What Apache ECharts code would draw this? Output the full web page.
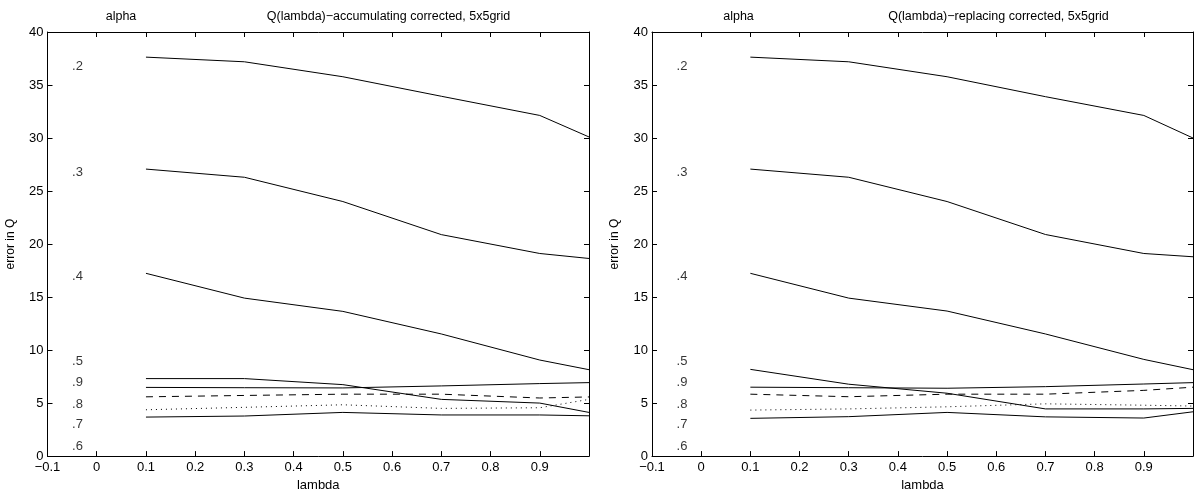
<!DOCTYPE html>
<html>
<head>
<meta charset="utf-8">
<script src="https://cdn.jsdelivr.net/npm/echarts@6/dist/echarts.min.js"></script>
<style>
  html, body { margin: 0; padding: 0; background: #fff; }
  #chart { width: 1201px; height: 497px; }
</style>
</head>
<body>
<div id="chart"></div>
<script>
// ---- data ----
const lambda = [0.1, 0.3, 0.5, 0.7, 0.9, 1.0];

// Q(lambda)-accumulating corrected
const accA2 = [37.63, 37.19, 35.78, 33.94, 32.13, 30.1];
const accA3 = [27.07, 26.3, 24.01, 20.89, 19.11, 18.64];
const accA4 = [17.24, 14.9, 13.65, 11.52, 9.06, 8.15];
const accA5 = [7.31, 7.31, 6.74, 5.35, 5.0, 4.12];
const accA9 = [6.48, 6.45, 6.43, 6.62, 6.84, 6.93];
const accA8 = [5.59, 5.72, 5.84, 5.84, 5.48, 5.58];
const accA7 = [4.37, 4.6, 4.84, 4.5, 4.56, 5.35];
const accA6 = [3.68, 3.78, 4.12, 3.88, 3.88, 3.8];

// Q(lambda)-replacing corrected
const repA2 = [37.63, 37.19, 35.78, 33.9, 32.13, 30.0];
const repA3 = [27.07, 26.3, 24.01, 20.9, 19.11, 18.8];
const repA4 = [17.24, 14.9, 13.68, 11.52, 9.12, 8.15];
const repA5 = [8.18, 6.78, 5.93, 4.45, 4.45, 4.5];
const repA9 = [6.5, 6.45, 6.4, 6.55, 6.8, 6.93];
const repA8 = [5.84, 5.6, 5.84, 5.84, 6.2, 6.5];
const repA7 = [4.34, 4.45, 4.65, 4.93, 4.8, 4.72];
const repA6 = [3.56, 3.72, 4.12, 3.7, 3.59, 4.18];

// alpha annotation column
const alphaLabels = ['.2', '.3', '.4', '.5', '.9', '.8', '.7', '.6'];
const alphaLabelY = [36.8, 26.8, 16.9, 8.9, 6.94, 4.92, 2.97, 0.92];
const alphaLabelX = -0.05;

const panelTitles = ['Q(lambda)\u2212accumulating corrected, 5x5grid', 'Q(lambda)\u2212replacing corrected, 5x5grid'];
const xName = 'lambda';
const yName = 'error in Q';
const alphaHeader = 'alpha';

// ---- chart ----
const FONT = '"Liberation Sans", Arial, Helvetica, sans-serif';
const chart = echarts.init(document.getElementById('chart'), null, { renderer: 'canvas' });

const grids = [
  { left: 47.5, right: 612, top: 32, bottom: 38 },
  { left: 652, right: 8, top: 32, bottom: 38 }
];

function fmtX(v) {
  const r = Math.round(v * 10) / 10;
  if (r >= 0.99) return '';
  if (r < 0) return '\u2212' + (-r);
  return String(r);
}

const xAxes = [], yAxes = [], series = [];
const lineBase = { color: '#000', width: 1 };

[0, 1].forEach(g => {
  const axisLine = { show: true, onZero: false, lineStyle: { color: '#000', width: 1 } };
  const tick = { show: true, inside: true, length: 5, lineStyle: { color: '#000', width: 1 } };
  xAxes.push({
    gridIndex: g, type: 'value', min: -0.1, max: 1.0, interval: 0.1, position: 'bottom',
    axisLine, axisTick: tick, splitLine: { show: false },
    axisLabel: { color: '#000', fontFamily: FONT, fontSize: 13, margin: 5, formatter: fmtX, showMaxLabel: true, showMinLabel: true },
    name: xName, nameLocation: 'middle', nameGap: 22,
    nameTextStyle: { color: '#000', fontFamily: FONT, fontSize: 13 }
  });
  xAxes.push({
    gridIndex: g, type: 'value', min: -0.1, max: 1.0, interval: 0.1, position: 'top',
    axisLine, axisTick: tick, splitLine: { show: false }, axisLabel: { show: false }
  });
  yAxes.push({
    gridIndex: g, type: 'value', min: 0, max: 40, interval: 5, position: 'left',
    axisLine, axisTick: tick, splitLine: { show: false },
    axisLabel: { color: '#000', fontFamily: FONT, fontSize: 13, margin: 4 },
    name: yName, nameLocation: 'middle', nameGap: 31,
    nameTextStyle: { color: '#000', fontFamily: FONT, fontSize: 12 }
  });
  yAxes.push({
    gridIndex: g, type: 'value', min: 0, max: 40, interval: 5, position: 'right',
    axisLine, axisTick: tick, splitLine: { show: false }, axisLabel: { show: false }
  });
});

function addPanel(g, sets) {
  const styles = ['solid', 'solid', 'solid', 'solid', 'solid', [7, 6], [1, 4], 'solid'];
  sets.forEach((arr, i) => {
    series.push({
      type: 'line', xAxisIndex: g * 2, yAxisIndex: g * 2,
      data: lambda.map((x, k) => [x, arr[k]]),
      symbol: 'none', silent: true, animation: false,
      lineStyle: Object.assign({}, lineBase, { type: styles[i] })
    });
  });
  series.push({
    type: 'scatter', xAxisIndex: g * 2, yAxisIndex: g * 2,
    data: alphaLabels.map((t, k) => [alphaLabelX, alphaLabelY[k], t]),
    symbolSize: 0, silent: true, animation: false,
    label: {
      show: true, position: 'right', distance: 0,
      formatter: p => p.value[2],
      color: '#000', fontFamily: FONT, fontSize: 13
    }
  });
}
addPanel(0, [accA2, accA3, accA4, accA5, accA9, accA8, accA7, accA6]);
addPanel(1, [repA2, repA3, repA4, repA5, repA9, repA8, repA7, repA6]);

const headerCenters = [[121, 388.5], [738.5, 998.5]];
const graphic = [];
[0, 1].forEach(g => {
  graphic.push({ type: 'text', x: headerCenters[g][0], y: 17, style: { text: alphaHeader, font: '12.5px ' + FONT, fill: '#000', align: 'center', verticalAlign: 'middle' } });
  graphic.push({ type: 'text', x: headerCenters[g][1], y: 17, style: { text: panelTitles[g], font: '12.5px ' + FONT, fill: '#000', align: 'center', verticalAlign: 'middle' } });
});

chart.setOption({
  animation: false,
  backgroundColor: '#fff',
  grid: grids,
  xAxis: xAxes,
  yAxis: yAxes,
  series,
  graphic
});
</script>
</body>
</html>
